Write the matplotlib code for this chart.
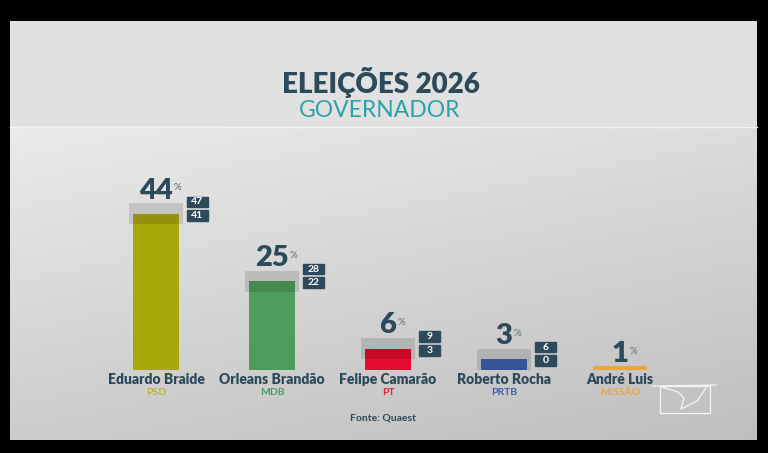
import numpy as np
import matplotlib.pyplot as plt
from matplotlib.patches import Rectangle

plt.rcParams['font.family'] = ['Lato', 'DejaVu Sans']

candidatos = ["Eduardo Braide", "Orleans Brandão", "Felipe Camarão", "Roberto Rocha", "André Luis"]
partidos = ["PSD", "MDB", "PT", "PRTB", "MISSÃO"]
intencao = [44, 25, 6, 3, 1]
limite_sup = [47, 28, 9, 6, None]
limite_inf = [41, 22, 3, 0, None]
cores = ["#aaa70c", "#4f9d5d", "#e30b2e", "#3f5fae", "#e9a73b"]
cores_partido = ["#bcb42c", "#4f9d5d", "#e0213c", "#3d5cb3", "#eaa83e"]

ESCURO = "#2d4a5a"
TEAL = "#2aa2a8"

W, H = 768, 453
fig = plt.figure(figsize=(W / 100, H / 100), dpi=100)
fig.patch.set_facecolor("black")

# fundo do painel
fundo = fig.add_axes([0, 0, 1, 1])
fundo.set_xlim(0, W)
fundo.set_ylim(H, 0)
fundo.axis("off")
fundo.add_patch(Rectangle((10, 21), 747, 106, facecolor="#e1e1e1", lw=0, zorder=0))
ty = np.linspace(0, 1, 200)[:, None]
tx = np.linspace(0, 1, 300)[None, :]
grad = (234 - 30 * ty - 14 * tx) / 255
fundo.imshow(grad, cmap="gray", vmin=0, vmax=1, extent=(10, 757, 440, 126), aspect="auto", zorder=1)
fundo.plot([10, 757], [126.5, 126.5], color="#f3f3f3", lw=1, zorder=2)

# logo
fundo.add_patch(Rectangle((660, 386), 50, 27, fill=False, ec="#f4f4f4", lw=0.9, zorder=2))
fundo.plot([652, 716], [386, 385], color="#f4f4f4", lw=0.9, zorder=2)
fundo.plot([662, 678, 684, 681, 697, 706], [387, 392, 398, 409, 401, 388], color="#f4f4f4", lw=0.9, zorder=2)

# titulo
fig.text(381 / W, 1 - 83 / H, "ELEIÇÕES 2026", ha="center", va="center",
         fontsize=20, fontweight="heavy", color=ESCURO)
fig.text(380 / W, 1 - 110.5 / H, "GOVERNADOR", ha="center", va="center",
         fontsize=16.5, color=TEAL)

# grafico
ax = fig.add_axes([98 / W, (H - 370) / H, 580 / W, 213 / H])
ax.set_xlim(-0.5, 4.5)
ax.set_ylim(0, 60)
ax.axis("off")
ax.patch.set_alpha(0)

x = np.arange(len(candidatos))
larguras = [0.39 if s is not None else 0.46 for s in limite_sup]
ax.bar(x, intencao, width=larguras, color=cores, clip_on=False)

for i in range(len(candidatos)):
    v = intencao[i]
    hi = limite_sup[i]
    lo = limite_inf[i]
    topo = v
    if hi is not None:
        ax.bar(x[i], hi - lo, bottom=lo, width=0.466, color="black", alpha=0.12)
        topo = hi
        bx = x[i] + 0.267
        ax.add_patch(Rectangle((bx, v + 1.95), 0.18, 2.9, color=ESCURO))
        ax.add_patch(Rectangle((bx, v - 1.95), 0.18, 3.1, color=ESCURO))
        ax.text(bx + 0.09, v + 3.4, str(hi), ha="center", va="center",
                fontsize=7.5, fontweight="bold", color="white")
        ax.text(bx + 0.09, v - 0.4, str(lo), ha="center", va="center",
                fontsize=7.5, fontweight="bold", color="white")
    txt = ax.text(x[i], topo + 1.3, str(v), ha="center", va="baseline",
                  fontsize=21, fontweight="heavy", color=ESCURO)
    ax.annotate("%", xy=(1, 0.6), xycoords=txt, xytext=(0.5, 0),
                textcoords="offset points", ha="left", va="center",
                fontsize=7, color="#5b6e7a")
    ax.text(x[i], -2.6, candidatos[i], ha="center", va="center",
            fontsize=10, fontweight="heavy", color=ESCURO)
    ax.text(x[i], -6.3, partidos[i], ha="center", va="center",
            fontsize=7.5, fontweight="bold", color=cores_partido[i])

fig.text(383 / W, 1 - 418 / H, "Fonte: Quaest", ha="center", va="center",
         fontsize=7.5, fontweight="bold", color=ESCURO)

fig.savefig("out.png", dpi=100, facecolor="black")
